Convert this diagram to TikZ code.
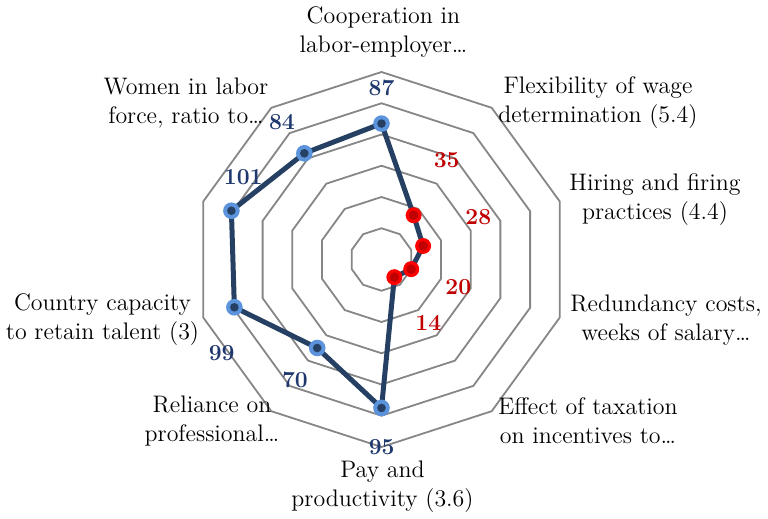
\documentclass[tikz,border=0pt]{standalone}
\usepackage{xcolor}
\usepackage{tikz}
\definecolor{ringgray}{RGB}{134,134,134}
\definecolor{lineblue}{RGB}{38,64,100}
\definecolor{markblue}{RGB}{91,148,220}
\definecolor{labblue}{RGB}{31,56,110}
\definecolor{labred}{RGB}{192,0,0}
\definecolor{markred}{RGB}{255,0,0}
\definecolor{darkred}{RGB}{192,0,0}

\begin{document}
\begin{tikzpicture}[x=0.5bp, y=0.5bp,
    ring/.style={draw=ringgray, line width=0.9bp},
    dataline/.style={draw=lineblue, line width=2.5bp, line join=round},
    axislab/.style={font=\fontsize{12}{14.5}\selectfont, align=center, inner sep=0pt},
    blueval/.style={font=\fontsize{11.5}{13}\selectfont\bfseries, text=labblue, inner sep=0pt},
    redval/.style={font=\fontsize{11.5}{13}\selectfont\bfseries, text=labred, inner sep=0pt}]
            \useasboundingbox (-381.5,-259.5) rectangle (386.5,259.5);
            \foreach \r in {1,...,6}
              \draw[ring] (90:{\r*31.25}) \foreach \k in {1,...,9} { -- ({90+36*\k}:{\r*31.25}) } -- cycle;
            \foreach \ang/\val/\nm in {90/87/coop, 54/35/flex, 18/28/hire, -18/20/redund, -54/14/tax,
                -90/95/pay, -126/70/rely, -162/99/talent, 162/101/women, 126/84/ratio}
              \coordinate (\nm) at (\ang:{\val*1.5625});
            \draw[dataline] (coop) -- (flex) -- (hire) -- (redund) -- (tax) -- (pay) -- (rely)
              -- (talent) -- (women) -- (ratio) -- cycle;
            \foreach \p in {coop, pay, rely, talent, women, ratio} {
              \fill[markblue] (\p) circle (8.3);
              \fill[lineblue] (\p) circle (4.3);
            }
            \foreach \p in {flex, hire, redund, tax} {
              \fill[markred] (\p) circle (8);
              \fill[darkred] (\p) circle (4.8);
            }
            \node[blueval] (vcoop) at (0, 171.5) {87};
            \node[redval] (vflex) at (65.2, 99.5) {35};
            \node[redval] (vhire) at (96.8, 42.8) {28};
            \node[redval] (vredund) at (76.8, -27.2) {20};
            \node[redval] (vtax) at (46.8, -63.8) {14};
            \node[blueval] (vpay) at (0.2, -187.2) {95};
            \node[blueval] (vrely) at (-86.5, -120.5) {70};
            \node[blueval] (vtalent) at (-159.8, -93.8) {99};
            \node[blueval] (vwomen) at (-138.2, 82.8) {101};
            \node[blueval] (vratio) at (-99.5, 137.8) {84};
            \node[axislab] (lcoop) at (2, 227.5) {Cooperation in\\labor-employer\ldots};
            \node[axislab] (lflex) at (216.5, 156.5) {Flexibility of wage\\determination (5.4)};
            \node[axislab] (lhire) at (273.5, 59.5) {Hiring and firing\\practices (4.4)};
            \node[axislab] (lredund) at (284.5, -60.5) {Redundancy costs,\\weeks of salary\ldots};
            \node[axislab] (ltax) at (206.5, -161.5) {Effect of taxation\\on incentives to\ldots};
            \node[axislab] (lpay) at (1, -227) {Pay and\\productivity (3.6)};
            \node[axislab] (lrely) at (-169.5, -161.5) {Reliance on\\professional\ldots};
            \node[axislab] (ltalent) at (-279, -60.5) {Country capacity\\to retain talent (3)};
            \node[axislab] (lratio) at (-195.5, 156.5) {Women in labor\\force, ratio to\ldots};
          \end{tikzpicture}
\end{document}
